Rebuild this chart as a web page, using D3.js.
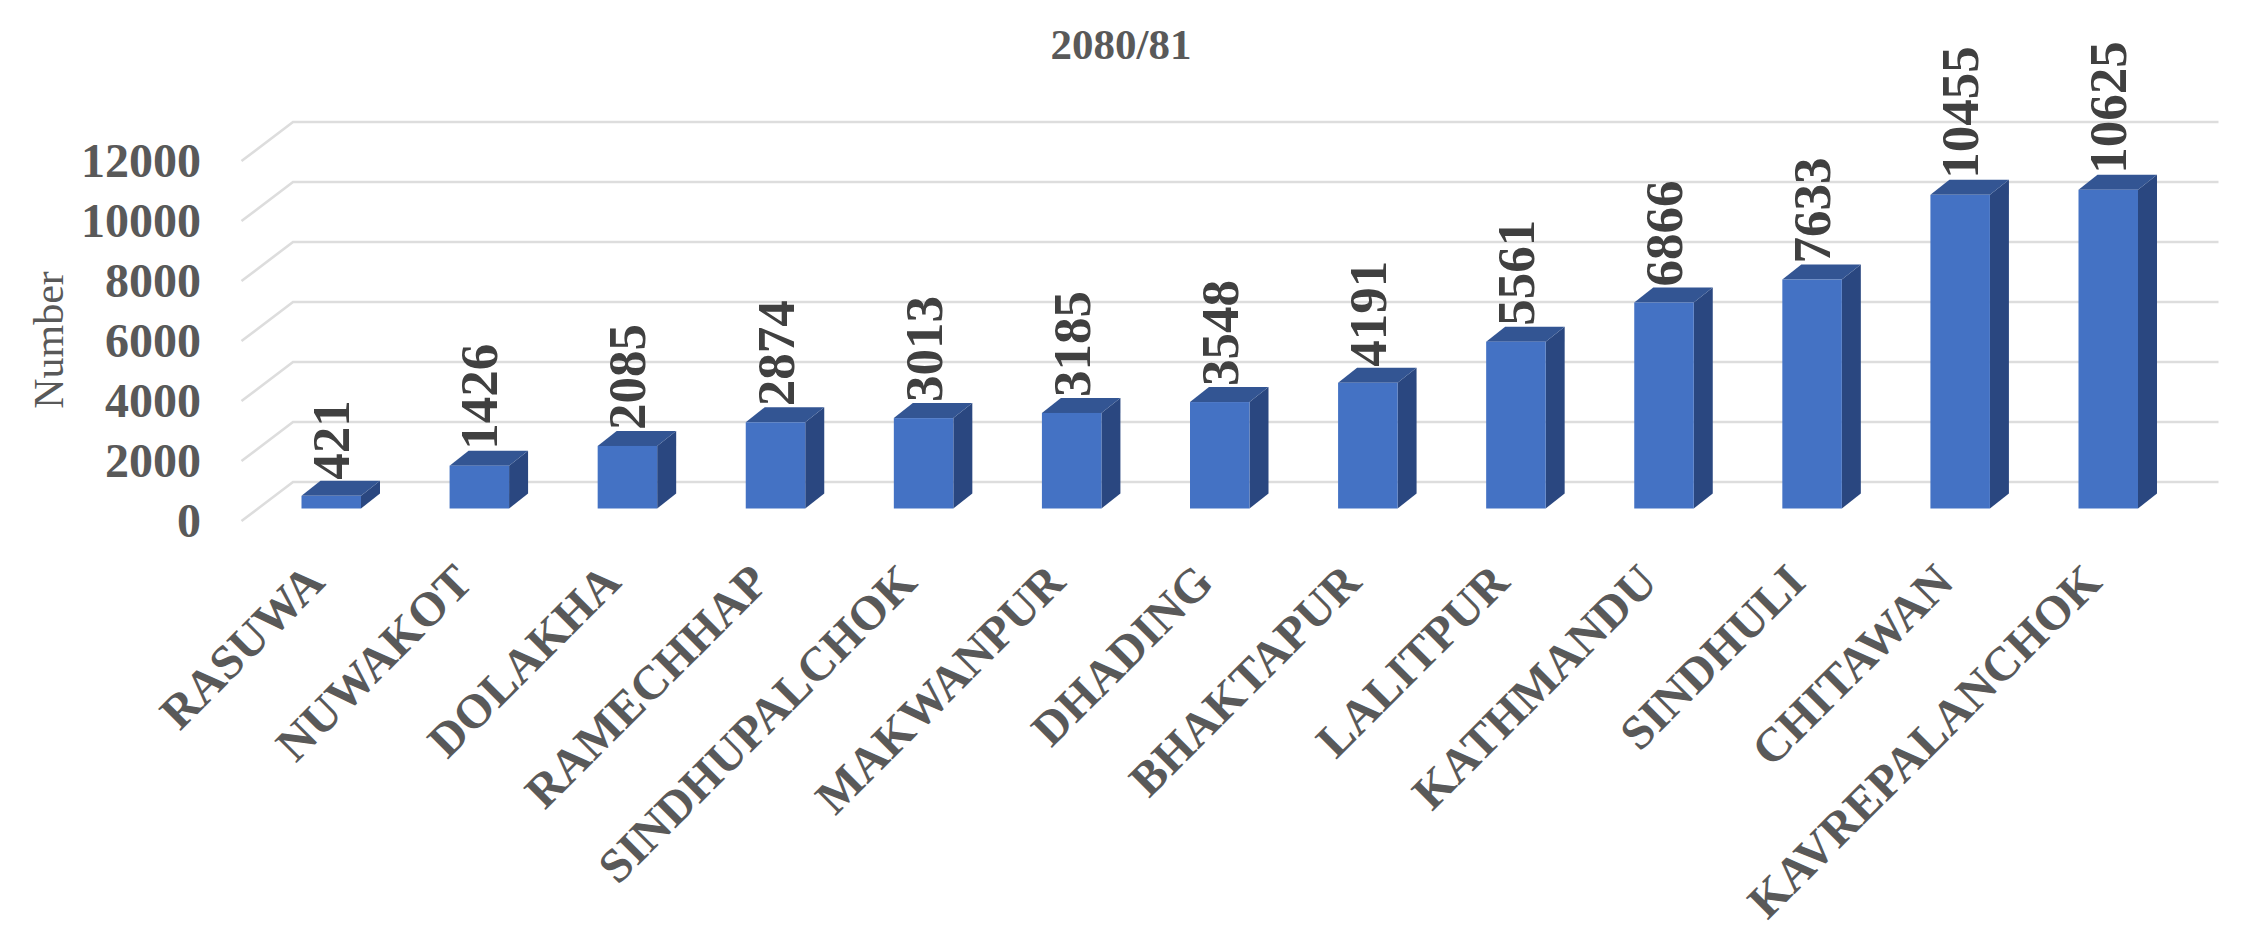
<!DOCTYPE html>
<html>
<head>
<meta charset="utf-8">
<script src="https://cdn.jsdelivr.net/npm/d3@7"></script>
<style>
html,body{margin:0;padding:0;background:#fff;overflow:hidden}
svg{display:block}
text{font-family:"Liberation Serif",serif}
</style>
</head>
<body>
<svg id="chart" width="2253" height="925"></svg>
<script>
const categories = ["RASUWA","NUWAKOT","DOLAKHA","RAMECHHAP","SINDHUPALCHOK","MAKWANPUR","DHADING","BHAKTAPUR","LALITPUR","KATHMANDU","SINDHULI","CHITAWAN","KAVREPALANCHOK"];
const values = [421,1426,2085,2874,3013,3185,3548,4191,5561,6866,7633,10455,10625];
const yTicks = [0,2000,4000,6000,8000,10000,12000];
const chartTitle = "2080/81";
const yTitle = "Number";

const svg = d3.select("#chart");

// Layout
const baseFront = 508.5, pxPerUnit = 0.03;
const depthX = 19, depthY = 15;
const gridBackLeft = 293, gridFrontLeft = 241.5, gridRight = 2218.5;
const gridBack0 = 482, gridFront0 = 521;

const x = d3.scaleBand().domain(categories).range([301.5, 2138]).paddingInner(1 - 59.5/148.08).paddingOuter(0);
const h = d3.scaleLinear().domain([0,12000]).range([0, 12000*pxPerUnit]);
const yFront = v => baseFront - h(v);

// Gridlines on the wall and the floor edge
const grid = svg.append("g").attr("fill","none").attr("stroke","#DDDDDD").attr("stroke-width",2.6);
grid.selectAll("path").data(yTicks).join("path")
  .attr("d", t => d3.line()([
    [gridFrontLeft, gridFront0 - h(t)],
    [gridBackLeft, gridBack0 - h(t)],
    [gridRight, gridBack0 - h(t)]
  ]));

// Value axis labels
const axisY = d3.scaleLinear().domain([0,12000]).range([gridFront0, gridFront0 - h(12000)]);
const yAxis = svg.append("g").attr("transform","translate(201,0)")
  .call(d3.axisLeft(axisY).tickValues(yTicks).tickSize(0).tickPadding(0).tickFormat(d3.format("d")));
yAxis.select(".domain").remove();
yAxis.selectAll("text")
  .attr("font-family","Liberation Serif").attr("font-size",48).attr("font-weight","bold").attr("fill","#595959");

// Bars
const bars = svg.append("g").selectAll("g").data(values).join("g");
const poly = pts => pts.map(p => p.join(",")).join(" ");
bars.append("polygon").attr("fill","#2A4780")
  .attr("points",(v,i)=>{const r=x(categories[i])+x.bandwidth();return poly([[r,yFront(v)],[r+depthX,yFront(v)-depthY],[r+depthX,baseFront-depthY],[r,baseFront]]);});
bars.append("polygon").attr("fill","#335593")
  .attr("points",(v,i)=>{const l=x(categories[i]),r=l+x.bandwidth();return poly([[l,yFront(v)],[l+depthX,yFront(v)-depthY],[r+depthX,yFront(v)-depthY],[r,yFront(v)]]);});
bars.append("rect").attr("fill","#4472C4")
  .attr("x",(v,i)=>x(categories[i])).attr("width",x.bandwidth())
  .attr("y",v=>yFront(v)).attr("height",v=>h(v));

// Data labels
svg.append("g").selectAll("text").data(values).join("text")
  .attr("transform",(v,i)=>`translate(${x(categories[i])+x.bandwidth()/2},${yFront(v)-depthY-1}) rotate(-90)`)
  .attr("dy","0.34em")
  .attr("font-size",53).attr("font-weight","bold").attr("fill","#404040")
  .text(v=>v);

// Category labels
const xAxis = svg.append("g");
xAxis.selectAll("text").data(categories).join("text")
  .attr("transform",d=>`translate(${x(d)+x.bandwidth()/2-16},${573}) rotate(-45)`)
  .attr("text-anchor","end").attr("dy","0.34em")
  .attr("font-size",48).attr("font-weight","bold").attr("fill","#595959")
  .text(d=>d);

// Titles
svg.append("text").attr("x",1121).attr("y",59).attr("text-anchor","middle")
  .attr("font-size",43).attr("font-weight","bold").attr("fill","#595959").text(chartTitle);
svg.append("text").attr("transform","translate(49,340) rotate(-90)").attr("text-anchor","middle").attr("dy","0.34em")
  .attr("font-size",42).attr("fill","#595959").text(yTitle);
</script>
</body>
</html>
